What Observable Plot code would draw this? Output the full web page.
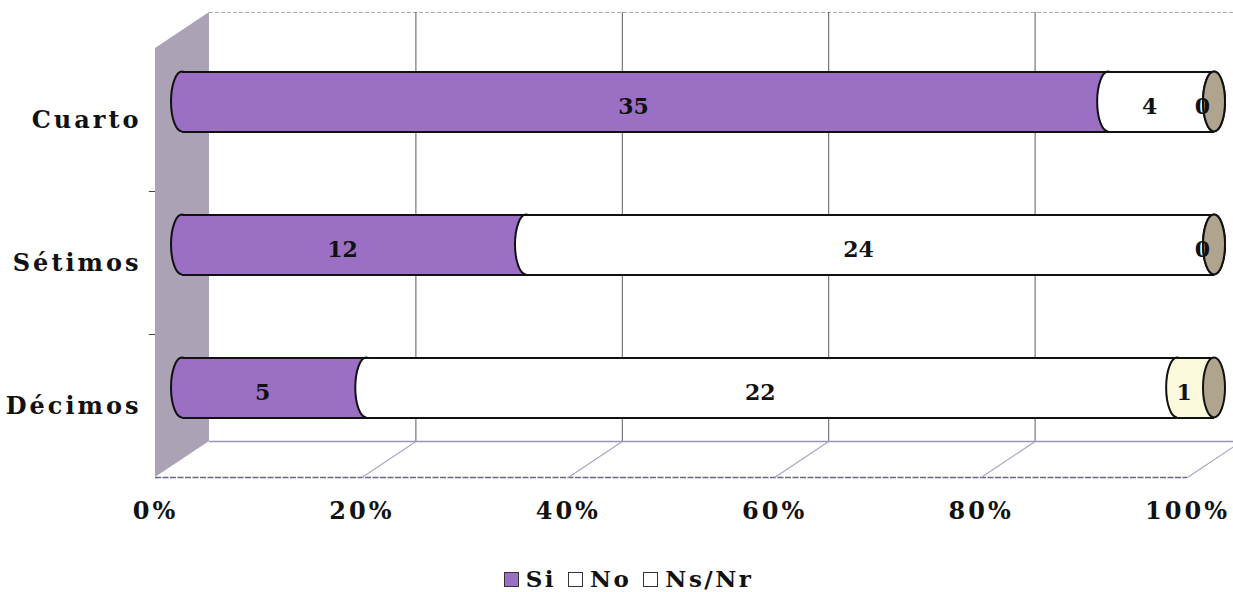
<!DOCTYPE html>
<html><head><meta charset="utf-8">
<script src="https://cdn.jsdelivr.net/npm/d3@7"></script>
<script src="https://cdn.jsdelivr.net/npm/@observablehq/plot@0.6"></script>
<style>
body{margin:0;background:#fff;}
#chart svg{display:block;}
[aria-label^="x-axis"] text,[aria-label^="y-axis"] text{letter-spacing:3px;}
#legend{height:47px;box-sizing:border-box;padding-top:21px;padding-left:24px;display:flex;justify-content:center;align-items:center;gap:12px;font:bold 23px "DejaVu Serif";letter-spacing:2.5px;color:#111;line-height:24px;}
#legend .it{display:flex;align-items:center;}
#legend .sw{display:inline-block;width:13px;height:13px;border:1.5px solid #333;margin-right:7px;}
</style></head><body>
<div id="chart"></div>
<div id="legend"></div>
<script>
// ---- data ----
const categories = ["Cuarto", "Sétimos", "Décimos"];
const seriesNames = ["Si", "No", "Ns/Nr"];
const si   = [35, 12, 5];
const no   = [4, 24, 22];
const nsnr = [0, 0, 1];
const xTicks = [0, 0.2, 0.4, 0.6, 0.8, 1];
const seriesColors = ["#9a6fc4", "#ffffff", "#fbfadc"];
const capColor = "#b0a48e";
const wallColor = "#aba3b5";

// ---- layout ----
const W = 1233, H = 545, ML = 155, MR = 46, MT = 48, FLOOR = 477, MB = H - FLOOR;
const pxX = (W - ML - MR), pxY = (FLOOR - MT) / 3;
const DX = 54 / pxX, DY = 36 / pxY;       // depth of the 3D box in data units
const BH = 60 / pxY;                      // cylinder height (y units)
const RX = 11, RY = 30;                   // ellipse radii (px)

const values = [si, no, nsnr];
const rows = [];
categories.forEach((c, i) => {
  const total = si[i] + no[i] + nsnr[i];
  let acc = 0;
  values.forEach((arr, s) => {
    const start = acc / total; acc += arr[i]; const end = acc / total;
    rows.push({cat: c, i, s, value: arr[i], start, end});
  });
});
const cyF = r => r.i - DY / 2;
const topF = r => cyF(r) - BH / 2, botF = r => cyF(r) + BH / 2;
const catRows = categories.map((c, i) => ({cat: c, i}));

const marks = [
  // left wall
  Plot.areaY([{x: 0, y1: 2.5, y2: -0.5}, {x: DX, y1: 2.5 - DY, y2: -0.5 - DY}],
    {x: "x", y1: "y1", y2: "y2", fill: wallColor}),
  // back wall top edge
  Plot.ruleY([-0.5 - DY], {x1: DX, x2: 1 + DX, stroke: "#b0a8c4", strokeWidth: 1.2, strokeDasharray: "4,2"}),
  // back wall grid
  Plot.ruleX(xTicks.slice(1, 5), {x: d => d + DX, y1: -0.5 - DY, y2: 2.5 - DY, stroke: "#5e5a66", strokeWidth: 1}),
  // floor
  Plot.ruleY([2.5 - DY], {x1: DX, x2: 1 + DX, stroke: "#9c94b4", strokeWidth: 1.3}),
  Plot.ruleY([2.5], {x1: 0, x2: 1, stroke: "#6c6680", strokeWidth: 1.3, strokeDasharray: "6,1.5"}),
  Plot.link(xTicks.slice(1), {x1: d => d, y1: 2.5, x2: d => d + DX, y2: 2.5 - DY, stroke: "#aaa2c4", strokeWidth: 1.1}),
  // small ticks on wall edge
  Plot.ruleY([0.5, 1.5], {x1: -0.006, x2: 0, stroke: "#444", strokeWidth: 1})
];

// cylinders, series by series
seriesNames.forEach((name, s) => {
  const segs = rows.filter(r => r.s === s);
  marks.push(Plot.rect(segs, {
    x1: r => r.start + DX / 2, x2: r => r.start + DX / 2, y1: topF, y2: botF,
    insetLeft: -RX, insetRight: -RX, rx: RX, ry: RY,
    fill: seriesColors[s], stroke: "#111", strokeWidth: 2
  }));
  marks.push(Plot.rect(segs, {
    x1: r => r.start + DX / 2, x2: r => r.end + DX / 2, y1: topF, y2: botF,
    fill: seriesColors[s]
  }));
});
// cylinder outline
marks.push(Plot.ruleY(catRows, {y: topF, x1: DX / 2, x2: 1 + DX / 2, stroke: "#111", strokeWidth: 2}));
marks.push(Plot.ruleY(catRows, {y: botF, x1: DX / 2, x2: 1 + DX / 2, stroke: "#111", strokeWidth: 2}));
// end caps
marks.push(Plot.rect(catRows, {
  x1: 1 + DX / 2, x2: 1 + DX / 2, y1: topF, y2: botF,
  insetLeft: -RX, insetRight: -RX, rx: RX, ry: RY,
  fill: capColor, stroke: "#111", strokeWidth: 2
}));
// value labels
marks.push(Plot.text(rows, {
  x: r => (r.start + r.end) / 2 + DX / 2, y: cyF, text: r => String(r.value),
  dx: -12, dy: 5, fontSize: 22, fontWeight: "bold", fontFamily: "DejaVu Serif", fill: "#111"
}));

const chart = Plot.plot({
  width: W, height: H,
  marginLeft: ML, marginRight: MR, marginTop: MT, marginBottom: MB,
  style: {fontFamily: "DejaVu Serif", fontSize: "24px", fontWeight: "bold", color: "#111", background: "#fff", overflow: "visible"},
  x: {domain: [0, 1], ticks: xTicks, tickFormat: d3.format(".0%"), tickSize: 0, tickPadding: 24, label: null},
  y: {domain: [-0.5, 2.5], reverse: true, ticks: [0, 1, 2], tickFormat: i => categories[i], tickSize: 0, tickPadding: 14, label: null},
  marks
});
document.getElementById("chart").appendChild(chart);

// legend
const lg = document.getElementById("legend");
seriesNames.forEach((n, s) => {
  const it = document.createElement("span"); it.className = "it";
  const sw = document.createElement("span"); sw.className = "sw";
  sw.style.background = s === 0 ? seriesColors[0] : "#fff";
  it.appendChild(sw); it.appendChild(document.createTextNode(n));
  lg.appendChild(it);
});
</script>
</body></html>
